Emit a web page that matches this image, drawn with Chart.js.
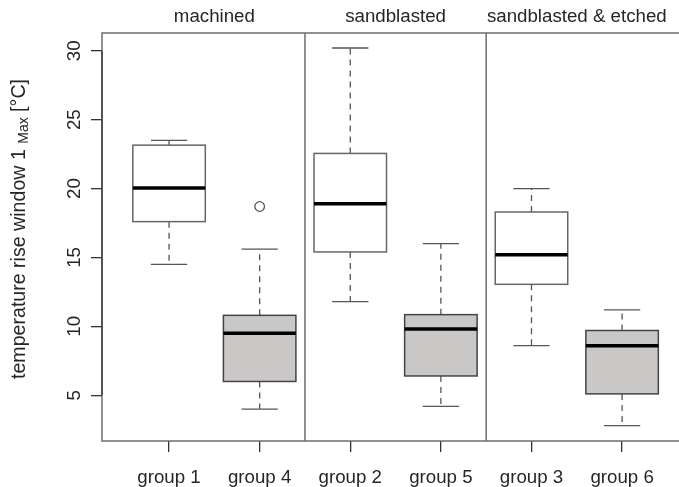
<!DOCTYPE html>
<html>
<head>
<meta charset="utf-8">
<script src="https://cdn.jsdelivr.net/npm/chart.js@4.4.1/dist/chart.umd.min.js"></script>
<style>
  html, body { margin: 0; padding: 0; background: #fff; overflow: hidden; }
  canvas { display: block; }
</style>
</head>
<body>
<canvas id="boxChart" width="679" height="487"></canvas>
<script>
// values (one box per group, in plotting order)
const groupPositions = [1, 2, 3, 4, 5, 6];
const groupLabels = ['group 1', 'group 4', 'group 2', 'group 5', 'group 3', 'group 6'];
const panelTitles = ['machined', 'sandblasted', 'sandblasted & etched'];

const whiskerLow  = [14.5, 4.0, 11.8, 4.2, 8.6, 2.8];
const lowerQuart  = [17.6, 6.0, 15.4, 6.4, 13.05, 5.1];
const medians     = [20.05, 9.5, 18.9, 9.8, 15.2, 8.6];
const upperQuart  = [23.15, 10.8, 22.55, 10.85, 18.3, 9.7];
const whiskerHigh = [23.5, 15.6, 30.2, 16.0, 20.0, 11.2];

const outlierX = [2];
const outlierY = [18.7];

const yTicks = [5, 10, 15, 20, 25, 30];

const FONT = "'Liberation Sans', Arial, Helvetica, sans-serif";
const TEXT_COLOR = '#262626';
const LINE_COLOR = '#555555';
const FRAME_COLOR = '#6e6e6e';
const GRAY_FILL = '#cac7c7';

// boxes, whiskers, medians drawn through the chart scales
const boxPlotPlugin = {
  id: 'boxPlot',
  beforeDatasetsDraw(chart) {
    const { ctx, scales: { x, y } } = chart;
    const unit = x.getPixelForValue(2) - x.getPixelForValue(1);
    const boxHalf = unit * 0.4;
    const capHalf = unit * 0.2;

    groupPositions.forEach((pos, i) => {
      const cx = x.getPixelForValue(pos);
      const yLow = y.getPixelForValue(whiskerLow[i]);
      const yQ1 = y.getPixelForValue(lowerQuart[i]);
      const yMed = y.getPixelForValue(medians[i]);
      const yQ3 = y.getPixelForValue(upperQuart[i]);
      const yHigh = y.getPixelForValue(whiskerHigh[i]);

      ctx.save();
      ctx.strokeStyle = LINE_COLOR;
      ctx.lineWidth = 1.3;

      // dashed whiskers
      ctx.setLineDash([6, 5]);
      ctx.beginPath();
      ctx.moveTo(cx, yQ3);
      ctx.lineTo(cx, yHigh);
      ctx.moveTo(cx, yQ1);
      ctx.lineTo(cx, yLow);
      ctx.stroke();
      ctx.setLineDash([]);

      // staples
      ctx.beginPath();
      ctx.moveTo(cx - capHalf, yHigh);
      ctx.lineTo(cx + capHalf, yHigh);
      ctx.moveTo(cx - capHalf, yLow);
      ctx.lineTo(cx + capHalf, yLow);
      ctx.stroke();

      // box
      ctx.fillStyle = i % 2 === 0 ? '#ffffff' : GRAY_FILL;
      ctx.fillRect(cx - boxHalf, yQ3, boxHalf * 2, yQ1 - yQ3);
      ctx.lineWidth = 1.5;
      ctx.strokeStyle = i % 2 === 0 ? '#666666' : '#444444';
      ctx.strokeRect(cx - boxHalf, yQ3, boxHalf * 2, yQ1 - yQ3);

      // median
      ctx.strokeStyle = '#000000';
      ctx.lineWidth = 3.5;
      ctx.beginPath();
      ctx.moveTo(cx - boxHalf, yMed);
      ctx.lineTo(cx + boxHalf, yMed);
      ctx.stroke();
      ctx.restore();
    });
  },
  afterDatasetsDraw(chart) {
    const { ctx, chartArea: a, scales: { x, y } } = chart;
    ctx.save();
    ctx.strokeStyle = FRAME_COLOR;
    ctx.lineWidth = 1.5;
    ctx.beginPath();
    ctx.moveTo(chart.width, a.top);
    ctx.lineTo(a.left, a.top);
    ctx.lineTo(a.left, a.bottom);
    ctx.lineTo(chart.width, a.bottom);
    // panel separators between the pairs
    for (let k = 1; k < panelTitles.length; k++) {
      const sx = x.getPixelForValue((groupPositions[2 * k - 1] + groupPositions[2 * k]) / 2);
      ctx.moveTo(sx, a.top);
      ctx.lineTo(sx, a.bottom);
    }
    ctx.stroke();

    // y axis line over the tick range
    ctx.strokeStyle = '#333333';
    ctx.lineWidth = 1.3;
    ctx.beginPath();
    ctx.moveTo(a.left, y.getPixelForValue(yTicks[0]));
    ctx.lineTo(a.left, y.getPixelForValue(yTicks[yTicks.length - 1]));
    ctx.stroke();
    ctx.restore();
  },
  afterDraw(chart) {
    const { ctx, scales: { x } } = chart;
    ctx.save();
    ctx.fillStyle = TEXT_COLOR;
    ctx.textAlign = 'center';
    ctx.textBaseline = 'middle';
    ctx.font = `18.7px ${FONT}`;
    panelTitles.forEach((t, k) => {
      const mid = (groupPositions[2 * k] + groupPositions[2 * k + 1]) / 2;
      ctx.fillText(t, x.getPixelForValue(mid), 17);
    });

    // y axis title with subscript
    const main1 = 'temperature rise window 1 ';
    const sub = 'Max';
    const main2 = ' [°C]';
    const mainFont = `19.6px ${FONT}`;
    const subFont = `14px ${FONT}`;
    ctx.font = mainFont;
    const w1 = ctx.measureText(main1).width;
    const w3 = ctx.measureText(main2).width;
    ctx.font = subFont;
    const w2 = ctx.measureText(sub).width;
    const total = w1 + w2 + w3;
    ctx.translate(20, 229);
    ctx.rotate(-Math.PI / 2);
    ctx.textAlign = 'left';
    let px = -total / 2;
    ctx.font = mainFont;
    ctx.fillText(main1, px, 0);
    px += w1;
    ctx.font = subFont;
    ctx.fillText(sub, px, 4);
    px += w2;
    ctx.font = mainFont;
    ctx.fillText(main2, px, 0);
    ctx.restore();
  }
};

const ctx = document.getElementById('boxChart');
new Chart(ctx, {
  type: 'scatter',
  data: {
    datasets: [{
      label: 'outliers',
      data: outlierX.map((v, i) => ({ x: v, y: outlierY[i] })),
      pointRadius: 4.8,
      pointBorderWidth: 1.3,
      pointBorderColor: LINE_COLOR,
      pointBackgroundColor: '#ffffff'
    }]
  },
  options: {
    responsive: false,
    animation: false,
    devicePixelRatio: 1,
    layout: { autoPadding: false, padding: { top: 33, left: 0, right: 0, bottom: 0 } },
    plugins: {
      legend: { display: false },
      tooltip: { enabled: false }
    },
    scales: {
      x: {
        type: 'linear',
        min: 0.26,
        max: 6.628,
        afterBuildTicks: (scale) => {
          scale.ticks = groupPositions.map(v => ({ value: v }));
        },
        afterFit: (scale) => {
          scale.height = 46;
          scale.paddingLeft = 0;
          scale.paddingRight = 0;
        },
        border: { display: false },
        grid: {
          drawOnChartArea: false,
          drawTicks: true,
          tickLength: 11,
          color: '#333333',
          lineWidth: 1.3
        },
        ticks: {
          autoSkip: false,
          maxRotation: 0,
          padding: 15,
          color: TEXT_COLOR,
          font: { family: FONT, size: 18.7 },
          callback: (value) => groupLabels[groupPositions.indexOf(value)]
        }
      },
      y: {
        type: 'linear',
        min: 1.68,
        max: 31.29,
        afterBuildTicks: (scale) => {
          scale.ticks = yTicks.map(v => ({ value: v }));
        },
        afterFit: (scale) => {
          scale.width = 102;
          scale.paddingTop = 0;
          scale.paddingBottom = 0;
        },
        border: { display: false },
        grid: {
          drawOnChartArea: false,
          drawTicks: true,
          tickLength: 11,
          color: '#333333',
          lineWidth: 1.3
        },
        ticks: {
          minRotation: 90,
          maxRotation: 90,
          crossAlign: 'center',
          padding: 6,
          color: TEXT_COLOR,
          font: { family: FONT, size: 18.7 }
        }
      }
    }
  },
  plugins: [boxPlotPlugin]
});
</script>
</body>
</html>
